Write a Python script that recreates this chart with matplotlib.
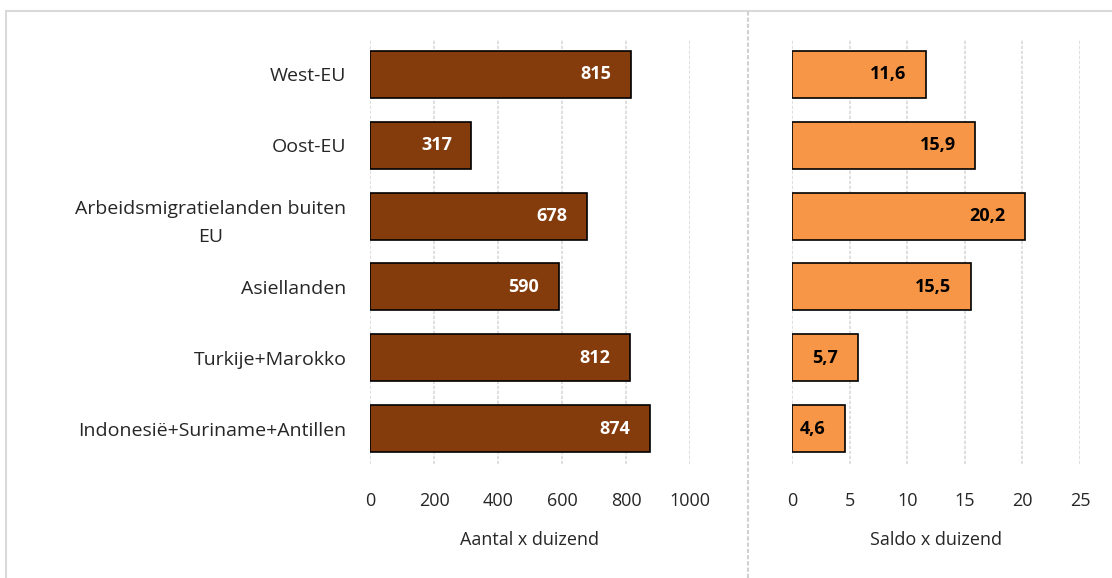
import matplotlib.pyplot as plt
from matplotlib.patches import Rectangle
from matplotlib.lines import Line2D

# categorieen en waarden
landen = ['West-EU', 'Oost-EU', 'Arbeidsmigratielanden buiten\nEU', 'Asiellanden',
          'Turkije+Marokko', 'Indonesië+Suriname+Antillen']
aantal = [815, 317, 678, 590, 812, 874]
saldo = [11.6, 15.9, 20.2, 15.5, 5.7, 4.6]
aantal_ticks = [0, 200, 400, 600, 800, 1000]
saldo_ticks = [0, 5, 10, 15, 20, 25]

plt.rcParams['font.family'] = ['Open Sans', 'DejaVu Sans']

fig = plt.figure(figsize=(11.12, 5.78), dpi=100)
W, H = 1112, 578

def box(x0, x1, y0, y1):
    return [x0 / W, 1 - y1 / H, (x1 - x0) / W, (y1 - y0) / H]

ax1 = fig.add_axes(box(370, 690, 39, 464))
ax2 = fig.add_axes(box(792, 1080, 39, 464))

# rand en scheidingslijn
fig.add_artist(Rectangle((6 / W, -0.1), 1.2, 1 - 11 / H + 0.1, transform=fig.transFigure,
                         fill=False, edgecolor='#d9d9d9', linewidth=1.5))
fig.add_artist(Line2D([748 / W, 748 / W], [0, 1 - 11 / H], transform=fig.transFigure,
                      color='#d0d0d0', linewidth=1.5, linestyle=(0, (2, 1))))

y = list(range(len(landen)))

def teken(ax, waarden, kleur, ticks, xlabel, labels, tekstkleur, fmt):
    bars = ax.barh(y, waarden, height=0.665, color=kleur, edgecolor='black', linewidth=1.2, zorder=3)
    ax.set_ylim(len(landen) - 0.5, -0.5)
    ax.set_xlim(ticks[0], ticks[-1])
    ax.set_xticks(ticks)
    ax.set_xticklabels([str(t) for t in ticks], fontsize=13, color='#262626')
    ax.tick_params(axis='x', length=0, pad=20)
    ax.tick_params(axis='y', length=0, pad=17)
    if labels:
        ax.set_yticks(y)
        ax.set_yticklabels(landen, fontsize=14, color='#262626', multialignment='center',
                           linespacing=1.7)
    else:
        ax.set_yticks([])
    ax.set_xlabel(xlabel, fontsize=13, color='#262626', labelpad=15)
    for s in ax.spines.values():
        s.set_visible(False)
    ax.grid(axis='x', color='#d9d9d9', linestyle=(0, (2, 1)), linewidth=1.2, zorder=0)
    for b, v in zip(bars, waarden):
        ax.annotate(fmt(v), (b.get_width(), b.get_y() + b.get_height() / 2),
                    xytext=(-14, 0), textcoords='offset points', ha='right', va='center',
                    fontsize=13, fontweight='bold', color=tekstkleur, zorder=4)

teken(ax1, aantal, '#843c0c', aantal_ticks, 'Aantal x duizend', True, 'white', lambda v: str(v))
teken(ax2, saldo, '#f79646', saldo_ticks, 'Saldo x duizend', False, 'black',
      lambda v: ('%.1f' % v).replace('.', ','))

fig.savefig('out.png', dpi=100)
